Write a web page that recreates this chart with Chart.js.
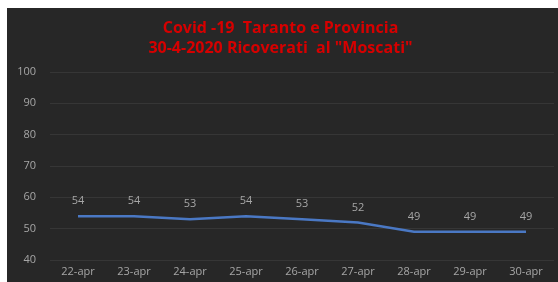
<!DOCTYPE html>
<html>
<head>
<meta charset="utf-8">
<script src="https://cdn.jsdelivr.net/npm/chart.js"></script>
<style>
  html, body { margin: 0; padding: 0; background: #ffffff; overflow: hidden; }
  #box { position: absolute; left: 7px; top: 8px; width: 551px; height: 274px; background: #272727; }
</style>
</head>
<body>
<div id="box"><canvas id="chart" width="551" height="274"></canvas></div>
<script>
// Dati del grafico
const giorni = ['22-apr', '23-apr', '24-apr', '25-apr', '26-apr', '27-apr', '28-apr', '29-apr', '30-apr'];
const ricoverati = [54, 54, 53, 54, 53, 52, 49, 49, 49];
const titolo = ['Covid -19  Taranto e Provincia', '30-4-2020 Ricoverati  al "Moscati"'];

// Etichette dei valori sopra i punti
const etichette = {
    id: 'etichette',
    afterDatasetsDraw(chart) {
        const ctx = chart.ctx;
        const meta = chart.getDatasetMeta(0);
        ctx.save();
        ctx.font = '11px "Open Sans"';
        ctx.fillStyle = '#a6a6a6';
        ctx.textAlign = 'center';
        ctx.textBaseline = 'middle';
        meta.data.forEach((p, i) => {
            ctx.fillText(ricoverati[i], p.x, p.y - 15);
        });
        ctx.restore();
    }
};

new Chart(document.getElementById('chart'), {
    type: 'line',
    data: {
        labels: giorni,
        datasets: [{
            data: ricoverati,
            borderColor: '#4a78c4',
            borderWidth: 2.5,
            pointRadius: 0,
            tension: 0,
            fill: false
        }]
    },
    options: {
        responsive: false,
        animation: false,
        layout: { padding: { top: 0, right: 4, left: 0, bottom: 0 } },
        plugins: {
            legend: { display: false },
            tooltip: { enabled: false },
            title: {
                display: true,
                text: titolo,
                color: '#d60000',
                font: { family: '"Open Sans"', size: 16, weight: 'bold', lineHeight: 1.25 },
                padding: { top: 10, bottom: 14 }
            }
        },
        scales: {
            x: {
                offset: true,
                grid: { display: false, drawTicks: false },
                border: { display: false },
                ticks: { color: '#a6a6a6', font: { family: '"Open Sans"', size: 11 }, padding: 5, maxRotation: 0 },
                afterFit(s) { s.height = 22; }
            },
            y: {
                min: 40,
                max: 100,
                grid: { color: 'rgba(255,255,255,0.07)', drawTicks: false },
                border: { display: false },
                ticks: { stepSize: 10, color: '#a6a6a6', font: { family: '"Open Sans"', size: 11 }, padding: 14 },
                afterFit(s) { s.width = 43; }
            }
        }
    },
    plugins: [etichette]
});
</script>
</body>
</html>
